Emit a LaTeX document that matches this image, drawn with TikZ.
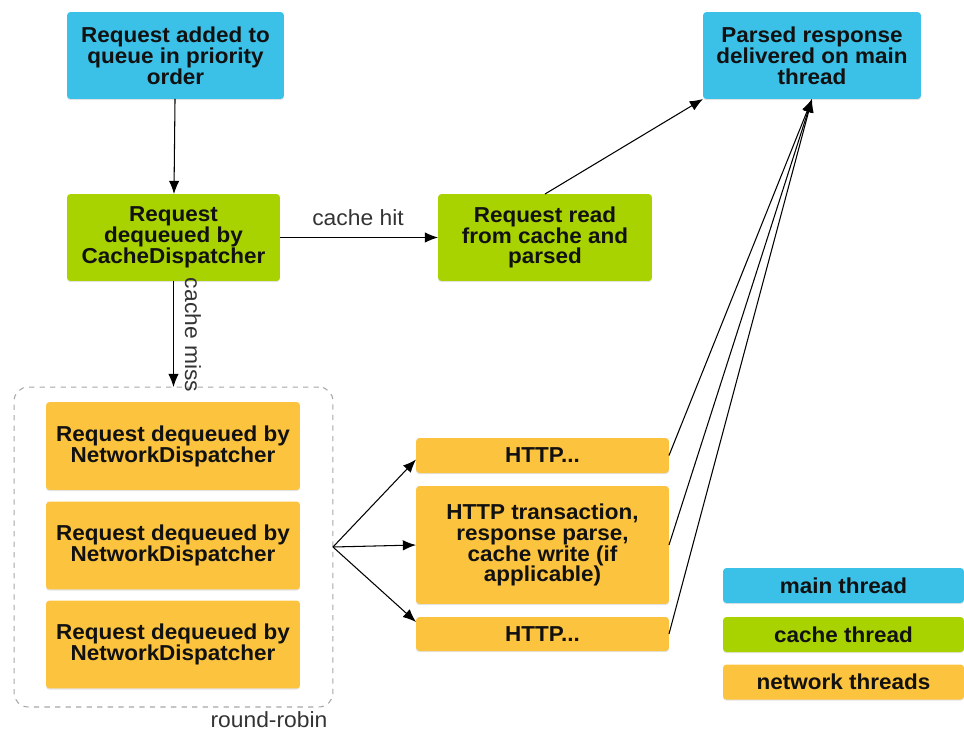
\documentclass[tikz,border=0pt]{standalone}
\usepackage{fontspec}
\setmainfont{Liberation Sans}[FakeStretch=1.04]
\usetikzlibrary{arrows.meta,calc,shadows}
\definecolor{mainblue}{HTML}{3BC1E8}
\definecolor{cachegreen}{HTML}{A9D300}
\definecolor{netorange}{HTML}{FCC33F}
\definecolor{boxtext}{HTML}{111111}
\definecolor{lbltext}{HTML}{333333}
\tikzset{
  box/.style={rectangle, rounded corners=2pt, inner sep=0pt, outer sep=0pt,
    minimum height=1.74cm, align=center, text=boxtext,
    font=\fontsize{12.3}{11.9}\selectfont\bfseries,
    drop shadow={shadow xshift=0pt, shadow yshift=-0.7pt, opacity=0.22}},
  mainbox/.style={box, fill=mainblue},
  cachebox/.style={box, fill=cachegreen},
  netbox/.style={box, fill=netorange},
  keybox/.style={box, minimum width=4.82cm, minimum height=0.70cm},
  lbl/.style={text=lbltext, font=\fontsize{12.5}{14}\selectfont, inner sep=1pt},
  groupbox/.style={draw=gray!70, dashed, rounded corners=8pt, line width=0.6pt,
    minimum width=6.38cm, minimum height=6.40cm, inner sep=0pt, outer sep=0pt},
}
\begin{document}
\begin{tikzpicture}[>={Latex[length=7.5pt,width=6pt]}, x=0.02cm, y=-0.02cm, line width=0.6pt]
    \useasboundingbox (0,0) rectangle (964,730);
    % top row
    \node[mainbox, minimum width=4.34cm] (queue) at (175.5,55.5) {Request added to\\queue in priority\\order};
    \node[mainbox, minimum width=4.36cm] (parsed) at (812,55.5) {Parsed response\\delivered on main\\thread};
    % cache thread
    \node[cachebox, minimum width=4.26cm] (cachedisp) at (173.5,237.5) {Request\\dequeued by\\CacheDispatcher};
    \node[cachebox, minimum width=4.28cm] (cacheread) at (545,237.5) {Request read\\from cache and\\parsed};
    % network dispatchers
    \node[groupbox] (group) at (173.5,547) {};
    \node[netbox, minimum width=5.08cm, minimum height=1.76cm] (netdisp1) at (173,446) {Request dequeued by\\NetworkDispatcher};
    \node[netbox, minimum width=5.08cm, minimum height=1.76cm] (netdisp2) at (173,545.5) {Request dequeued by\\NetworkDispatcher};
    \node[netbox, minimum width=5.08cm, minimum height=1.76cm] (netdisp3) at (173,644.5) {Request dequeued by\\NetworkDispatcher};
    \node[lbl] (robin) at (269,720) {round-robin};
    % http work
    \node[netbox, minimum width=5.06cm, minimum height=0.70cm] (http1) at (542.5,455.5) {HTTP...};
    \node[netbox, minimum width=5.06cm, minimum height=2.36cm] (http2) at (542.5,545) {HTTP transaction,\\response parse,\\cache write (if\\applicable)};
    \node[netbox, minimum width=5.06cm, minimum height=0.68cm] (http3) at (542.5,634) {HTTP...};
    % legend
    \node[keybox, fill=mainblue] (keymain) at (843.5,585.5) {main thread};
    \node[keybox, fill=cachegreen] (keycache) at (843.5,634.5) {cache thread};
    \node[keybox, fill=netorange] (keynet) at (843.5,682) {network threads};
    % connectors
    \draw[->] (queue) -- (cachedisp);
    \draw[->] (cachedisp) -- (cacheread);
    \node[lbl] (hitlbl) at (358,218) {cache hit};
    \draw[->] (cachedisp) -- (group);
    \node[lbl, rotate=-90] (misslbl) at (193,335) {cache miss};
    \draw[->] (cacheread.north) -- (parsed.south west);
    \coordinate (fan) at (group.east);
    \draw[->] (fan) -- ($(http1.west)+(0,4)$);
    \draw[->] (fan) -- (http2.west);
    \draw[->] (fan) -- ($(http3.west)+(0,-12)$);
    \draw[->] (http1.east) -- (parsed.south);
    \draw[->] (http2.east) -- (parsed.south);
    \draw[->] (http3.east) -- (parsed.south);
\end{tikzpicture}
\end{document}
